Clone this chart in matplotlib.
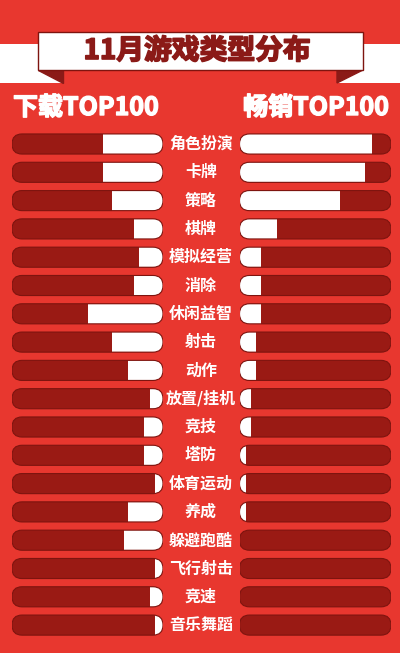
import matplotlib
matplotlib.use("Agg")
import matplotlib.pyplot as plt
import matplotlib.patheffects as pe
from matplotlib.patches import FancyBboxPatch, Rectangle, Polygon
from matplotlib.transforms import blended_transform_factory

plt.rcParams['font.family'] = ['Noto Sans CJK SC', 'DejaVu Sans']

categories = ["角色扮演", "卡牌", "策略", "棋牌", "模拟经营", "消除", "休闲益智", "射击", "动作",
              "放置/挂机", "竞技", "塔防", "体育运动", "养成", "躲避跑酷", "飞行射击", "竞速", "音乐舞蹈"]
download_top100 = [40, 39.5, 33.5, 19, 16, 19, 50, 33.5, 23,
                   8.5, 12.5, 12.5, 5.5, 23, 26, 5.5, 8.5, 5.5]
grossing_top100 = [87.5, 83, 66.5, 24.5, 14.5, 14.5, 14.5, 11, 11,
                   7.5, 7.5, 4.5, 4.5, 4.5, 0, 0, 0, 0]

title = "11月游戏类型分布"
left_header = "下载TOP100"
right_header = "畅销TOP100"

BG = '#E8372F'
TRACK = '#9A1A14'
EDGE = '#7E140F'
DARK = '#8B1A17'

W, H = 400, 653
fig = plt.figure(figsize=(W / 100, H / 100), dpi=100, facecolor=BG)

# background axes in pixel coordinates for the banner
bg = fig.add_axes([0, 0, 1, 1])
bg.set_xlim(0, W)
bg.set_ylim(H, 0)
bg.axis('off')
bg.set_facecolor(BG)

# ribbon side strips and folds
bg.add_patch(Polygon([(0, 44), (63, 44), (63, 83), (0, 83)], closed=True,
                     facecolor='white', edgecolor='none'))
bg.add_patch(Polygon([(337, 44), (400, 44), (400, 83), (337, 83)], closed=True,
                     facecolor='white', edgecolor='none'))
bg.add_patch(Polygon([(38, 70), (63, 70), (63, 83)], closed=True, facecolor=DARK, edgecolor=DARK))
bg.add_patch(Polygon([(337, 70), (363, 70), (337, 83)], closed=True, facecolor=DARK, edgecolor=DARK))
bg.add_patch(Rectangle((38, 32), 325, 38, facecolor='white', edgecolor=EDGE, lw=1))
bg.text(197, 51, title, ha='center', va='center', fontsize=20, fontweight='heavy', color=DARK,
        path_effects=[pe.withStroke(linewidth=1.2, foreground=DARK)])

for x, txt, ha in [(13, left_header, 'left'), (389, right_header, 'right')]:
    bg.text(x, 108, txt, ha=ha, va='center', fontsize=18, fontweight='heavy', color='white',
            path_effects=[pe.withStroke(linewidth=1.0, foreground='white')])

# bar panels
n = len(categories)
row0, row_step = 144, 28.3
top_px = row0 - row_step / 2
bot_px = row0 + (n - 1) * row_step + row_step / 2
ax_bottom = (H - bot_px) / H
ax_height = (bot_px - top_px) / H

ax_l = fig.add_axes([12 / W, ax_bottom, 151 / W, ax_height])
ax_r = fig.add_axes([239.5 / W, ax_bottom, 151.5 / W, ax_height])

bar_h = 0.71
for ax, values, width_px, flip in [(ax_l, download_top100, 151, True),
                                   (ax_r, grossing_top100, 151.5, False)]:
    ax.set_ylim(n - 0.5, -0.5)
    if flip:
        ax.set_xlim(100, 0)
    else:
        ax.set_xlim(0, 100)
    ax.axis('off')
    ax.patch.set_alpha(0)
    x_per_px = 100 / width_px
    y_per_px = 1 / row_step
    radius = 10 * x_per_px
    for i, v in enumerate(values):
        track = FancyBboxPatch((0, i - bar_h / 2), 100, bar_h,
                               boxstyle=f"round,pad=0,rounding_size={radius}",
                               mutation_aspect=y_per_px / x_per_px,
                               facecolor=TRACK, edgecolor='none', zorder=1)
        ax.add_patch(track)
        bars = ax.barh([i], [v], left=0, height=bar_h, color='white', zorder=2)
        for b in bars:
            b.set_clip_path(track)
        outline = FancyBboxPatch((0, i - bar_h / 2), 100, bar_h,
                                 boxstyle=f"round,pad=0,rounding_size={radius}",
                                 mutation_aspect=y_per_px / x_per_px,
                                 facecolor='none', edgecolor=EDGE, lw=0.8, zorder=3)
        ax.add_patch(outline)

# category labels in the middle
trans = blended_transform_factory(fig.transFigure, ax_l.transData)
for i, c in enumerate(categories):
    fig.text(201 / W, i, c, transform=trans, ha='center', va='center',
             fontsize=11.5, fontweight='bold', color='white')

fig.savefig("out.png", dpi=100, facecolor=BG)
